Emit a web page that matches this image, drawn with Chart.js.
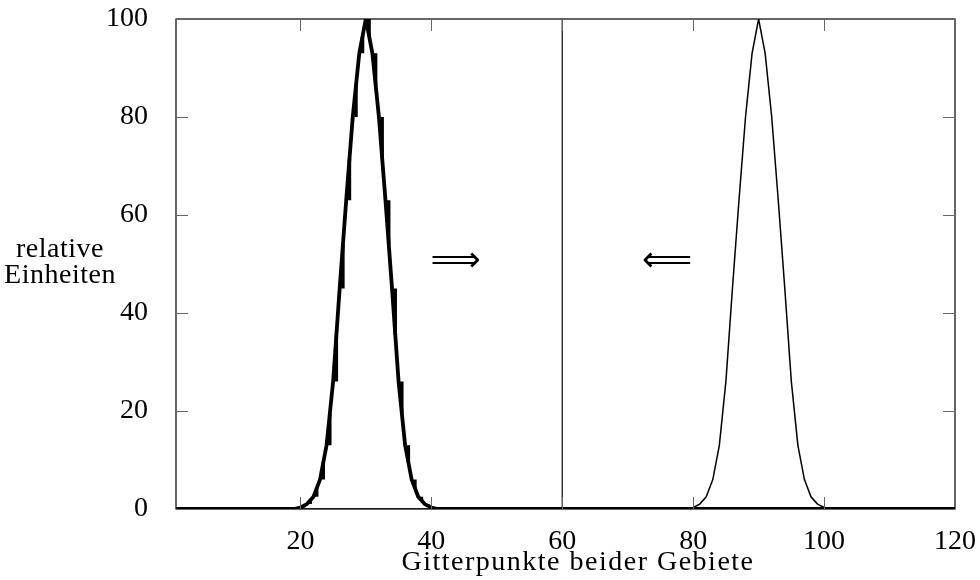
<!DOCTYPE html>
<html>
<head>
<meta charset="utf-8">
<script src="https://cdn.jsdelivr.net/npm/chart.js@4"></script>
<style>
  html, body { margin: 0; padding: 0; background: #fff; }
  #wrap { width: 980px; height: 580px; }
</style>
</head>
<body>
<div id="wrap"><canvas id="chart" width="980" height="580"></canvas></div>
<script>
// grid points of both domains, 1..120
const gridPoints = Array.from({ length: 120 }, (_, i) => i + 1);

// pulse in the left domain (thick curve)
const leftPulse = [
  0, 0, 0, 0, 0, 0, 0, 0, 0, 0,
  0, 0, 0, 0, 0, 0, 0, 0, 0, 0.3,
  1, 2.5, 6, 13, 26, 45, 63, 80, 93, 100,
  93, 80, 63, 45, 26, 13, 6, 2.5, 1, 0.3,
  0, 0, 0, 0, 0, 0, 0, 0, 0, 0,
  0, 0, 0, 0, 0, 0, 0, 0, 0, 0,
  0, 0, 0, 0, 0, 0, 0, 0, 0, 0,
  0, 0, 0, 0, 0, 0, 0, 0, 0, 0,
  0, 0, 0, 0, 0, 0, 0, 0, 0, 0,
  0, 0, 0, 0, 0, 0, 0, 0, 0, 0,
  0, 0, 0, 0, 0, 0, 0, 0, 0, 0,
  0, 0, 0, 0, 0, 0, 0, 0, 0, 0
];

// pulse in the right domain (thin curve)
const rightPulse = [
  0, 0, 0, 0, 0, 0, 0, 0, 0, 0,
  0, 0, 0, 0, 0, 0, 0, 0, 0, 0,
  0, 0, 0, 0, 0, 0, 0, 0, 0, 0,
  0, 0, 0, 0, 0, 0, 0, 0, 0, 0,
  0, 0, 0, 0, 0, 0, 0, 0, 0, 0,
  0, 0, 0, 0, 0, 0, 0, 0, 0, 0,
  0, 0, 0, 0, 0, 0, 0, 0, 0, 0,
  0, 0, 0, 0, 0, 0, 0, 0, 0, 0.3,
  1, 2.5, 6, 13, 26, 45, 63, 80, 93, 100,
  93, 80, 63, 45, 26, 13, 6, 2.5, 1, 0.3,
  0, 0, 0, 0, 0, 0, 0, 0, 0, 0,
  0, 0, 0, 0, 0, 0, 0, 0, 0, 0
];

// domain interface
const interfaceX = [60, 60];
const interfaceY = [0, 100];

const xTicks = [20, 40, 60, 80, 100, 120];
const yTicks = [0, 20, 40, 60, 80, 100];

const SERIF = '"Liberation Serif", "DejaVu Serif", serif';

const toPts = (xs, ys) => xs.map((x, i) => ({ x, y: ys[i] }));

// short vertical half-steps between grid points (the notches on the thick curve)
function halfSteps(xs, ys) {
  const out = [];
  for (let i = 0; i < ys.length - 1; i++) {
    if (ys[i] === ys[i + 1]) continue;
    const xm = (xs[i] + xs[i + 1]) / 2;
    out.push({ x: xm, y: ys[i] }, { x: xm, y: (ys[i] + ys[i + 1]) / 2 }, { x: xm, y: null });
  }
  return out;
}

// frame, inward ticks on all four sides, arrows and axis titles
const decorations = {
  id: 'decorations',
  afterDatasetsDraw(chart) {
    const { ctx, chartArea: a, scales: { x, y } } = chart;
    ctx.save();
    ctx.strokeStyle = '#000';
    ctx.lineWidth = 1.2;
    ctx.strokeRect(a.left, a.top, a.right - a.left, a.bottom - a.top);

    ctx.strokeStyle = '#666';
    ctx.lineWidth = 1;
    const tl = 12;
    ctx.beginPath();
    xTicks.forEach(v => {
      const px = Math.round(x.getPixelForValue(v)) + 0.5;
      ctx.moveTo(px, a.bottom); ctx.lineTo(px, a.bottom - tl);
      ctx.moveTo(px, a.top); ctx.lineTo(px, a.top + tl);
    });
    yTicks.forEach(v => {
      const py = Math.round(y.getPixelForValue(v)) + 0.5;
      ctx.moveTo(a.left, py); ctx.lineTo(a.left + tl, py);
      ctx.moveTo(a.right, py); ctx.lineTo(a.right - tl, py);
    });
    ctx.stroke();

    ctx.fillStyle = '#000';
    ctx.textAlign = 'center';
    ctx.textBaseline = 'middle';
    ctx.font = '35px "DejaVu Sans", sans-serif';
    ctx.fillText('\u27F9', x.getPixelForValue(43.7), y.getPixelForValue(50.4));
    ctx.fillText('\u27F8', x.getPixelForValue(76), y.getPixelForValue(50.4));

    ctx.font = '28px ' + SERIF;
    if ('letterSpacing' in ctx) ctx.letterSpacing = '0.5px';
    ctx.fillText('relative', 60, 250);
    ctx.fillText('Einheiten', 60, 276);
    if ('letterSpacing' in ctx) ctx.letterSpacing = '1.5px';
    ctx.fillText('Gitterpunkte beider Gebiete', 578, 563);
    ctx.restore();
  }
};

new Chart(document.getElementById('chart'), {
  type: 'line',
  data: {
    datasets: [
      {
        label: 'links',
        data: toPts(gridPoints, leftPulse),
        borderColor: '#000',
        borderWidth: 3.8,
        pointRadius: 0,
        tension: 0,
        fill: false,
      },
      {
        label: 'links (Stufen)',
        data: halfSteps(gridPoints, leftPulse),
        borderColor: '#000',
        borderWidth: 3.4,
        borderCapStyle: 'butt',
        spanGaps: false,
        pointRadius: 0,
        fill: false,
      },
      {
        label: 'rechts',
        data: toPts(gridPoints, rightPulse),
        borderColor: '#000',
        borderWidth: 1.5,
        pointRadius: 0,
        tension: 0,
        fill: false,
      },
      {
        label: 'Grenze',
        data: toPts(interfaceX, interfaceY),
        borderColor: '#000',
        borderWidth: 1.2,
        pointRadius: 0,
        fill: false,
      },
    ]
  },
  options: {
    responsive: false,
    animation: false,
    events: [],
    layout: { padding: { top: 19, right: 25, left: 0, bottom: 0 } },
    plugins: { legend: { display: false }, tooltip: { enabled: false } },
    scales: {
      x: {
        type: 'linear',
        min: 1, max: 120,
        grid: { display: false },
        border: { display: false },
        ticks: { color: '#000', font: { family: SERIF, size: 28 }, padding: 8, maxRotation: 0 },
        afterBuildTicks: s => { s.ticks = xTicks.map(v => ({ value: v })); },
        afterFit: s => { s.height = 71; s.paddingLeft = 0; s.paddingRight = 0; },
      },
      y: {
        min: 0, max: 100,
        grid: { display: false },
        border: { display: false },
        ticks: { color: '#000', font: { family: SERIF, size: 28 }, padding: 20 },
        afterBuildTicks: s => { s.ticks = yTicks.map(v => ({ value: v })); },
        afterFit: s => { s.width = 176; s.paddingTop = 0; s.paddingBottom = 0; },
      }
    }
  },
  plugins: [decorations]
});
</script>
</body>
</html>
